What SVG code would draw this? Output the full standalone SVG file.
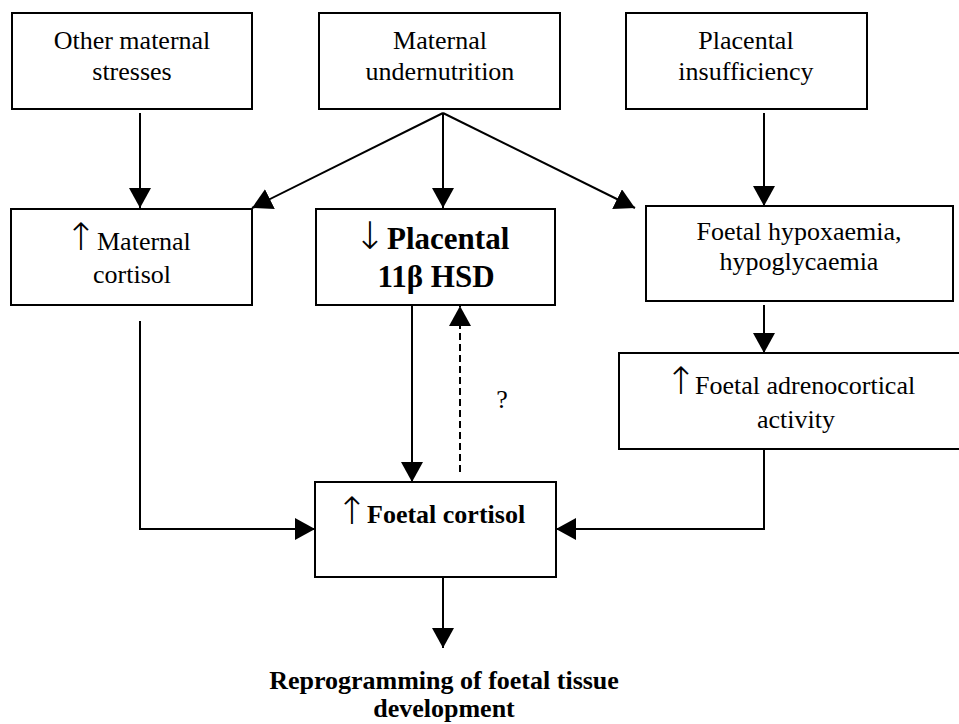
<svg xmlns="http://www.w3.org/2000/svg" width="959" height="724" viewBox="0 0 959 724">
<style>
.box{fill:#fff;stroke:#000;stroke-width:2}
.t{font-family:"Liberation Serif","Times New Roman",serif;font-size:26px;fill:#000;text-anchor:middle}
.s{text-anchor:start}
.b{font-weight:bold}
.big{font-size:31px}
.ar{font-family:"DejaVu Sans",sans-serif;font-size:38px;font-weight:200;fill:#000;text-anchor:middle}
.c{fill:none;stroke:#000;stroke-width:2}
.d{stroke-dasharray:7 4}
</style>
<defs>
<marker id="ah" viewBox="0 0 20 22" refX="20" refY="11" markerWidth="20" markerHeight="22" markerUnits="userSpaceOnUse" orient="auto">
<path d="M0,0 L20,11 L0,22 Z" fill="#000"/>
</marker>
</defs>
<rect width="959" height="724" fill="#fff"/>
<g id="connectors">
<path class="c" d="M140,113 V208" marker-end="url(#ah)"/>
<path class="c" d="M443,113 L252,208" marker-end="url(#ah)"/>
<path class="c" d="M443,113 V208" marker-end="url(#ah)"/>
<path class="c" d="M443,113 L635,208" marker-end="url(#ah)"/>
<path class="c" d="M764,113 V206" marker-end="url(#ah)"/>
<path class="c" d="M140,321 V529 H315" marker-end="url(#ah)"/>
<path class="c" d="M412,305 V482" marker-end="url(#ah)"/>
<path class="c d" d="M460,472 V306" marker-end="url(#ah)"/>
<path class="c" d="M764,305 V353" marker-end="url(#ah)"/>
<path class="c" d="M764,449 V529 H556" marker-end="url(#ah)"/>
<path class="c" d="M443,577 V648" marker-end="url(#ah)"/>
<text class="t" x="502" y="408">?</text>
</g>
<g id="other-stresses">
<rect class="box" x="12" y="13" width="240" height="96"/>
<text class="t" x="132" y="49">Other maternal</text>
<text class="t" x="132" y="80">stresses</text>
</g>
<g id="undernutrition">
<rect class="box" x="319" y="13" width="241" height="96"/>
<text class="t" x="440" y="49">Maternal</text>
<text class="t" x="440" y="80">undernutrition</text>
</g>
<g id="placental-insufficiency">
<rect class="box" x="626" y="13" width="241" height="96"/>
<text class="t" x="746" y="49">Placental</text>
<text class="t" x="746" y="80">insufficiency</text>
</g>
<g id="maternal-cortisol">
<rect class="box" x="11" y="209" width="241" height="96"/>
<text class="ar" x="81" y="250">↑</text>
<text class="t s" x="97" y="250">Maternal</text>
<text class="t" x="132" y="283">cortisol</text>
</g>
<g id="placental-hsd">
<rect class="box" x="316" y="209" width="239" height="96"/>
<text class="ar" x="370" y="249" font-size="28">↓</text>
<text class="t s big b" x="387" y="249">Placental</text>
<text class="t big b" x="436" y="287">11β HSD</text>
</g>
<g id="hypoxaemia">
<rect class="box" x="646" y="206" width="307" height="95"/>
<text class="t" x="799" y="240">Foetal hypoxaemia,</text>
<text class="t" x="799" y="270">hypoglycaemia</text>
</g>
<g id="adrenocortical">
<rect class="box" x="619" y="353" width="356" height="96"/>
<text class="ar" x="681" y="394">↑</text>
<text class="t s" x="695" y="394">Foetal adrenocortical</text>
<text class="t" x="796" y="428">activity</text>
</g>
<g id="foetal-cortisol">
<rect class="box" x="315" y="482" width="241" height="95"/>
<text class="ar" x="352" y="524">↑</text>
<text class="t s b" x="367" y="523">Foetal cortisol</text>
</g>
<g id="reprogramming">
<text class="t b" x="444" y="689">Reprogramming of foetal tissue</text>
<text class="t b" x="444" y="717">development</text>
</g>
</svg>
